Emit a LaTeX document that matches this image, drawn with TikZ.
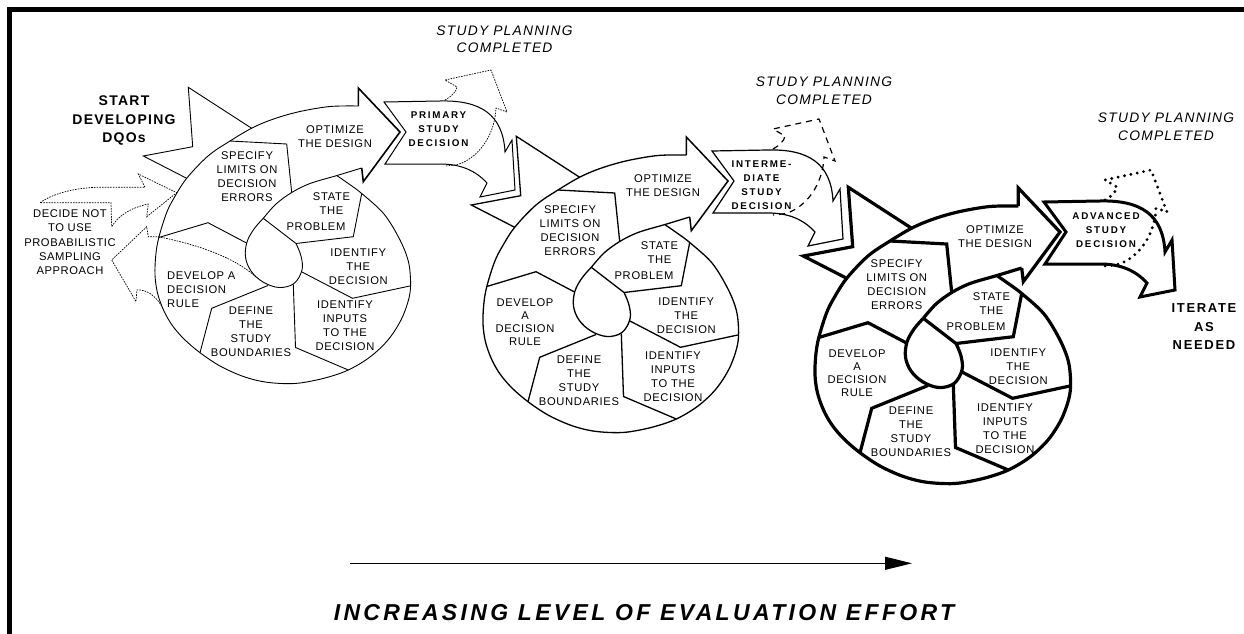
\documentclass[tikz,border=0pt]{standalone}
\usepackage{fontspec}
\setmainfont{Liberation Sans}
\newfontfamily\fstep[LetterSpace=6]{Liberation Sans}
\newfontfamily\fdec[LetterSpace=18]{Liberation Sans}
\newfontfamily\fstart[LetterSpace=9]{Liberation Sans}
\newfontfamily\fiter[LetterSpace=13]{Liberation Sans}
\newfontfamily\fplan[LetterSpace=9]{Liberation Sans}
\newfontfamily\feffort[LetterSpace=14.5]{Liberation Sans}
\usetikzlibrary{arrows.meta}
\tikzset{
  steptext/.style={font={\fstep\fontsize{11.2}{14}\selectfont}, align=center, inner sep=0pt},
  devtext/.style={font={\fstep\fontsize{11.2}{12.8}\selectfont}, align=center, inner sep=0pt},
  dectext/.style={font={\fdec\bfseries\fontsize{9.8}{14}\selectfont}, align=center, inner sep=0pt},
  plantext/.style={font={\fplan\itshape\fontsize{13.8}{17.5}\selectfont}, align=center, inner sep=0pt},
  starttext/.style={font={\fstart\bfseries\fontsize{14}{18.8}\selectfont}, align=center, inner sep=0pt},
  itertext/.style={font={\fiter\bfseries\fontsize{13}{18.3}\selectfont}, align=center, inner sep=0pt},
  efforttext/.style={font={\feffort\bfseries\itshape\fontsize{23}{26}\selectfont}, inner sep=0pt},
  finedots/.style={line width=0.7, dash pattern=on 1.6pt off 1.1pt},
  planone/.style={line width=0.7, dash pattern=on 1.6pt off 1.1pt},
  plantwo/.style={line width=1.2, dash pattern=on 6pt off 5pt},
  planthree/.style={line width=3.2, dash pattern=on 0pt off 6.5pt, line cap=round},
}
% spiral geometry, coordinates of the first spiral
\newcommand\spiralshape[2]{%
  \begin{scope}[line width=#1]
    % outer line
    \draw plot[smooth,tension=0.55] coordinates {(336.7,175.5) (349,184) (361.7,193.5) (384,214) (400,240) (408.5,262) (410.6,284) (408.5,300) (401,320) (388,340) (370,357) (348.3,370) (325,378) (300,383) (281.7,383.5) (262,381.5) (242,376) (220,366) (200,352.7) (184,339) (172,325) (163.5,310) (157.5,293) (155,275) (155.8,255) (158.8,237.5) (166.5,213) (174,198) (186.7,178.3) (208,156) (230,141) (253,127.5) (275,118.5) (300,111.5) (330,106.5) (358.3,106)};
    % inner line
    \draw plot[smooth,tension=0.55] coordinates {(361.7,168) (337,175.5) (310,183.5) (291.7,192.5) (276,204) (263.3,218.3)};
    % centre
    \draw (263.3,218.3) -- (296,243.5) -- plot[smooth,tension=0.6] coordinates {(296,243.5) (301,256) (302,270) (294,283.5) (279,287.5) (263,282) (251,271) (245.5,257) (247,242) (254,229) (263.3,218.3)};
    % dividers
    \draw (230,141) -- (286.7,144) -- (291.7,192.5);
    \draw (361.7,193.5) -- (353.3,236.7) -- (296,243.5);
    \draw (302,272) -- (352.5,298.3) -- (409.8,286);
    \draw (293.3,284.5) -- (295.5,347.5) -- (348.3,370);
    \draw (268,285.5) -- (211.7,308.3) -- (200,352.7);
    \draw (246.5,243) -- (208,222.7) -- (158.8,237.5);
    % start arrow
    \draw (251.7,128.3) -- (188.3,87.3) -- (192.7,146.7) -- (143.3,156) -- (186.7,178.3);
  \end{scope}
  \draw[line width=#2] (358.3,106) -- (358.3,88) -- (400,132) -- (363.3,181.7) -- (361.7,168);
}
% decision arrow, relative to the spiral tip
\newcommand\decarrow{%
  \draw (6,0) -- (-16,-30) -- (40,-31) .. controls (80,-32) and (103,-18) .. (105,20)
    -- (112,8) -- (115,58) -- (80,65) -- (87,51) .. controls (75,38) and (60,32) .. (40,32)
    -- (-15,32) -- cycle;
}
% study planning completed arrow, relative to the spiral tip
\newcommand\comparrow[1]{%
  \draw[#1] (45,-32) .. controls (52,-36) and (56,-40) .. (57,-45) -- (45,-52) -- (91,-62)
    -- (107,-20) -- (96,-24) .. controls (95,0) and (82,22) .. (62,31) .. controls (56,33) .. (45,34);
}
% step texts, relative to the spiral
\newcommand\steptexts[3]{%
  \node[steptext] (#1opt) at (335,136.2) {OPTIMIZE\\THE DESIGN};
  \node[steptext] (#1spec) at (#2) {SPECIFY\\LIMITS ON\\DECISION\\ERRORS};
  \node[steptext] (#1state) at (331.5,203.8) {STATE\\THE};
  \node[steptext] (#1prob) at (316,226.3) {PROBLEM};
  \node[steptext] (#1ident) at (358.3,266.3) {IDENTIFY\\THE\\DECISION};
  \node[steptext] (#1inp) at (345,#3) {IDENTIFY\\INPUTS\\TO THE\\DECISION};
  \node[steptext] (#1def) at (251,332) {DEFINE\\THE\\STUDY\\BOUNDARIES};
}
\begin{document}
\begin{tikzpicture}[x=1pt,y=-1pt]
\useasboundingbox (0,0) rectangle (1244,634);
% frame
\draw[line width=4.5] (9.5,634) -- (9.5,9.5) -- (1244,9.5);

% spirals
\spiralshape{0.9}{1.6}
\begin{scope}[shift={(328,49)}]\spiralshape{1.3}{1.5}\end{scope}
\begin{scope}[shift={(660,100)}]\spiralshape{3.2}{3.2}\end{scope}

% decision arrows
\begin{scope}[shift={(400,132)},line width=1]\decarrow\end{scope}
\begin{scope}[shift={(728,181)},line width=1.2]\decarrow\end{scope}
\begin{scope}[shift={(1060,232)},line width=3]\decarrow\end{scope}

% study planning completed arrows
\begin{scope}[shift={(400,132)}]\comparrow{planone}\end{scope}
\begin{scope}[shift={(728,181)}]\comparrow{plantwo}\end{scope}
\begin{scope}[shift={(1060,232)}]\comparrow{planthree}\end{scope}

% decide not to use probabilistic sampling: two dotted arrows
\draw[finedots] (40,202.7) .. controls (55,192) and (80,187.5) .. (98,187.3) -- (145,187.3)
  -- (138.3,174) -- (176.7,192.7) -- (146.7,216.7) -- (148.3,204)
  .. controls (130,208) and (118,216) .. (111.7,226.7) -- (111,202.7) -- cycle;
\draw[finedots] (256,277) .. controls (235,258) and (200,245) .. (158.3,236.7) -- (148.3,236.7)
  -- (146.7,226.7) -- (111.7,260) -- (136,301.7) -- (137,290)
  .. controls (146,289) and (157,296) .. (163.5,309.5);

% texts of the spirals
\steptexts{a}{247,177}{326}
\node[steptext, align=left, anchor=west] (adev) at (167,290) {DEVELOP A\\DECISION\\RULE};
\begin{scope}[shift={(328,49)}]
  \steptexts{b}{242,181.8}{327.5}
  \node[devtext] (bdev) at (197,273.3) {DEVELOP\\A\\DECISION\\RULE};
\end{scope}
\begin{scope}[shift={(660,100)}]
  \steptexts{c}{236.7,184.5}{328.8}
  \node[devtext] (cdev) at (197,273.3) {DEVELOP\\A\\DECISION\\RULE};
\end{scope}

% decision texts
\node[dectext] (prim) at (438.5,129.2) {PRIMARY\\STUDY\\DECISION};
\node[dectext] (inter) at (761.5,184.7) {INTERME-\\DIATE\\STUDY\\DECISION};
\node[dectext] (adv) at (1106,230) {ADVANCED\\STUDY\\DECISION};

% study planning completed labels
\node[plantext] (plan1) at (504.5,39.2) {STUDY PLANNING\\COMPLETED};
\node[plantext] (plan2) at (824,90.5) {STUDY PLANNING\\COMPLETED};
\node[plantext] (plan3) at (1166,126.7) {STUDY PLANNING\\COMPLETED};

% other labels
\node[starttext] (start) at (124,120.5) {START\\DEVELOPING\\DQOs};
\node[steptext, font={\fontspec[LetterSpace=5]{Liberation Sans}\fontsize{11.2}{14.2}\selectfont}] (decide) at (70,242.3) {DECIDE NOT\\TO USE\\PROBABILISTIC\\SAMPLING\\APPROACH};
\node[itertext] (iter) at (1204,326.7) {ITERATE\\AS\\NEEDED};

% effort axis
\coordinate (effortstart) at (350,563.3);
\coordinate (effortend) at (912,563.3);
\draw[line width=1.2, -{Triangle[length=27pt,width=13pt]}] (effortstart) -- (effortend);
\node[efforttext] (effort) at (644,613) {INCREASING LEVEL OF EVALUATION EFFORT};
\end{tikzpicture}
\end{document}
